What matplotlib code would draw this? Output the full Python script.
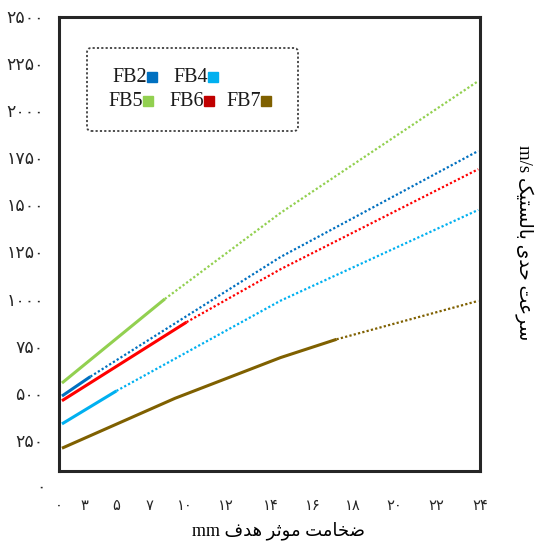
import numpy as np
import matplotlib.pyplot as plt
from matplotlib.patches import FancyBboxPatch

# sample names and colours
names = ['FB2', 'FB4', 'FB5', 'FB6', 'FB7']
line_colors = ['#0070C0', '#00B0F0', '#92D050', '#FF0000', '#7F6000']
square_colors = ['#0070C0', '#00B0F0', '#92D050', '#C00000', '#7F6000']

# thickness (mm) and ballistic limit velocity (m/s); the first `n_solid` points are measured,
# the rest is the dotted extrapolation
fb2_x = [0, 1.64, 12.6, 24]
fb2_y = [488, 591, 1226, 1789]
fb4_x = [0, 3.14, 12.6, 24]
fb4_y = [340, 515, 994, 1476]
fb5_x = [0, 5.93, 12.6, 24]
fb5_y = [557, 1003, 1460, 2160]
fb6_x = [0, 7.18, 12.6, 24]
fb6_y = [463, 880, 1161, 1692]
fb7_x = [0, 6.52, 12.6, 15.83, 24]
fb7_y = [211, 476, 692, 789, 993]
n_solid = [2, 2, 2, 2, 4]

# hand placed axis labels (Persian digits)
x_tick_labels = ['۰', '۳', '۵', '۷', '۱۰', '۱۲', '۱۴', '۱۶', '۱۸', '۲۰', '۲۲', '۲۴']
x_tick_pos = [-0.17, 1.31, 3.14, 5.02, 7.07, 9.46, 12.03, 14.48, 16.76, 19.15, 21.6, 24.1]
y_ticks = [250, 500, 750, 1000, 1250, 1500, 1750, 2000, 2250, 2500]
y_tick_labels = ['۲۵۰', '۵۰۰', '۷۵۰', '۱۰۰۰', '۱۲۵۰', '۱۵۰۰', '۱۷۵۰', '۲۰۰۰', '۲۲۵۰', '۲۵۰۰']

# Arabic text in visual (left to right) order with presentation forms
xlabel = 'mm ' + '\ufed1\ufeaa\ufeeb' + ' ' + '\ufeae\ufe9b\ufeee\ufee3' + ' ' + '\ufe96\ufee3\ufe8e\ufea8\ufebf'
ylabel = 'm/s ' + '\ufb8f\ufef4\ufe98\ufeb4\ufedf\ufe8e\ufe91' + ' ' + '\ufeef\ufeaa\ufea3' + ' ' + '\ufe96\ufecb\ufeae\ufeb3'

fonts = ['Liberation Serif', 'DejaVu Sans']
text_col = '#262626'

fig = plt.figure(figsize=(5.4, 5.43), dpi=100)
ax = fig.add_axes([59 / 540, 1 - 471 / 543, 421 / 540, 454 / 543])

xs = [fb2_x, fb4_x, fb5_x, fb6_x, fb7_x]
ys = [fb2_y, fb4_y, fb5_y, fb6_y, fb7_y]
for x, y, n, c in zip(xs, ys, n_solid, line_colors):
    ax.plot(x[:n], y[:n], color=c, lw=2.2, solid_capstyle='butt')
    ax.plot(x[n - 1:], y[n - 1:], color=c, lw=1.6, linestyle=(0, (1, 1)))

ax.set_xlim(0, 24)
ax.set_ylim(90, 2500)
ax.set_xticks(x_tick_pos)
ax.set_xticklabels(x_tick_labels, family=fonts, fontsize=10.5, color=text_col)
ax.set_yticks(y_ticks)
ax.set_yticklabels(y_tick_labels, family=fonts, fontsize=12.5, color=text_col)
ax.tick_params(axis='x', length=0, pad=21)
ax.tick_params(axis='y', length=0, pad=11)
ax.text(-0.031, 0, '۰', transform=ax.get_yaxis_transform(), ha='right', va='center',
        family=fonts, fontsize=12.5, color=text_col, clip_on=False)
for s in ax.spines.values():
    s.set_linewidth(2.2)
    s.set_color('#262626')

fig.text(279 / 540, 1 - 531 / 543, xlabel, ha='center', va='center', family=fonts,
         fontsize=13, color='black')
fig.text(524 / 540, 1 - 243 / 543, ylabel, ha='center', va='center', rotation=-90,
         family=fonts, fontsize=13.5, color='black')

# hand drawn legend box
def af(px, py):
    return (px - 59) / 421, (471 - py) / 454

x0, y0 = af(87, 131)
x1, y1 = af(298, 48)
box = FancyBboxPatch((x0, y0), x1 - x0, y1 - y0, boxstyle='round,pad=0,rounding_size=0.01',
                     transform=ax.transAxes, fill=False, ec='#404040', lw=1.3,
                     linestyle=(0, (1.2, 1.2)))
ax.add_patch(box)

# squares sit right after each name
legend_sq_px = [(152, 77), (213, 77), (148, 101), (209, 101), (266, 101)]
for name, c, sp in zip(names, square_colors, legend_sq_px):
    tx, ty = af(sp[0] - 5, sp[1])
    ax.text(tx, ty, name, transform=ax.transAxes, ha='right', va='center',
            family=fonts, fontsize=14.5, color='#1a1a1a')
    sx, sy = af(*sp)
    ax.plot([sx], [sy], marker='s', ms=7.5, color=c, transform=ax.transAxes, clip_on=False)

fig.savefig('out.png', dpi=100)
